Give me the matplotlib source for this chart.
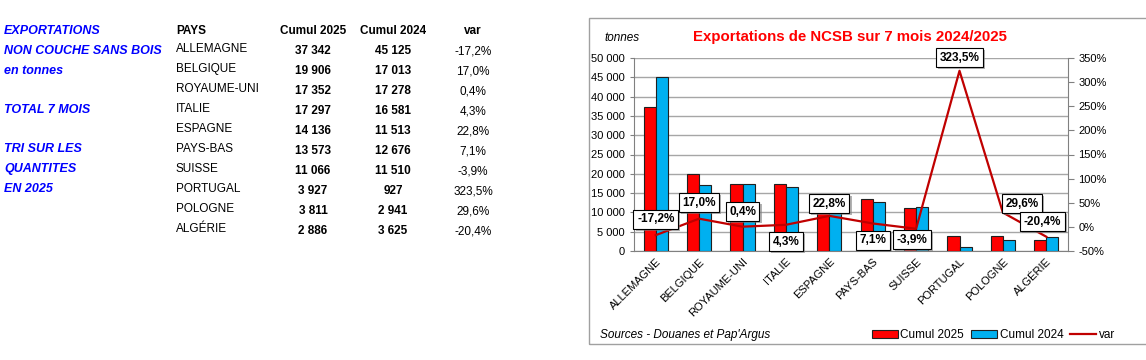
import matplotlib.pyplot as plt
from matplotlib.patches import Rectangle, Patch
from matplotlib.lines import Line2D
from matplotlib.ticker import FuncFormatter, MultipleLocator
import matplotlib.patheffects as pe
import numpy as np

plt.rcParams['font.family'] = ['Liberation Sans', 'DejaVu Sans']

W, H = 1146, 360

pays = ['ALLEMAGNE', 'BELGIQUE', 'ROYAUME-UNI', 'ITALIE', 'ESPAGNE',
        'PAYS-BAS', 'SUISSE', 'PORTUGAL', 'POLOGNE', 'ALGÉRIE']
cumul_2025 = [37342, 19906, 17352, 17297, 14136, 13573, 11066, 3927, 3811, 2886]
cumul_2024 = [45125, 17013, 17278, 16581, 11513, 12676, 11510, 927, 2941, 3625]
var = [-17.2, 17.0, 0.4, 4.3, 22.8, 7.1, -3.9, 323.5, 29.6, -20.4]

left_text = ['EXPORTATIONS', 'NON COUCHE SANS BOIS', 'en tonnes', '',
             'TOTAL 7 MOIS', '', 'TRI SUR LES', 'QUANTITES', 'EN 2025']

# label offsets (pixels) for the var boxes
label_off = [(0, 16), (0, 16), (0, 15), (0, -17), (0, 12),
             (0, -17), (-4, -11), (0, 13), (19, 9), (-4, 15)]

RED = '#FF0000'
BLUE = '#00B0F0'
LINE = '#C00000'
GRID = '#A6A6A6'


def fx(px):
    return px / W


def fy(py):
    return 1 - py / H


def fmt_int(v):
    return f"{v:,}".replace(',', ' ')


def fmt_pct(v):
    return f"{v:.1f}%".replace('.', ',')


fig = plt.figure(figsize=(W / 100, H / 100), dpi=100)

# ---- left text block
blue_lines_y = [31, 51, 71, 91, 110, 130, 149, 169, 189]
for txt, y in zip(left_text, blue_lines_y):
    if txt:
        fig.text(fx(4), fy(y), txt, color='#0000FF', fontsize=9,
                 fontweight='bold', fontstyle='italic', va='center', ha='left')

# ---- table
fig.text(fx(176), fy(31), 'PAYS', fontsize=8.5, fontweight='bold', va='center')
fig.text(fx(313), fy(31), 'Cumul 2025', fontsize=8.5, fontweight='bold', va='center', ha='center')
fig.text(fx(393), fy(31), 'Cumul 2024', fontsize=8.5, fontweight='bold', va='center', ha='center')
fig.text(fx(473), fy(31), 'var', fontsize=8.5, fontweight='bold', va='center', ha='center')
for i, p in enumerate(pays):
    y = 49 + i * 20
    fig.text(fx(176), fy(y), p, fontsize=8.5, va='center')
    fig.text(fx(313), fy(y + 2), fmt_int(cumul_2025[i]), fontsize=8.5,
             fontweight='bold', va='center', ha='center')
    fig.text(fx(393), fy(y + 2), fmt_int(cumul_2024[i]), fontsize=8.5,
             fontweight='bold', va='center', ha='center')
    fig.text(fx(473), fy(y + 2), fmt_pct(var[i]), fontsize=8.5,
             va='center', ha='center')

# ---- chart frame
fig.patches.append(Rectangle((fx(589), fy(344)), fx(W + 10 - 589), (344 - 18) / H,
                             transform=fig.transFigure, fill=False,
                             edgecolor='#A0A0A0', linewidth=1))

ax = fig.add_axes([fx(634), fy(251), (1068 - 634) / W, (251 - 58) / H])
x = np.arange(len(pays))
bw = 0.28
ax.bar(x - bw / 2, cumul_2025, bw, color=RED, edgecolor='#202020', linewidth=0.8,
       label='Cumul 2025', zorder=3)
ax.bar(x + bw / 2, cumul_2024, bw, color=BLUE, edgecolor='#202020', linewidth=0.8,
       label='Cumul 2024', zorder=3)
ax.set_ylim(0, 50000)
ax.set_xlim(-0.5, len(pays) - 0.5)
ax.yaxis.set_major_locator(MultipleLocator(5000))
ax.yaxis.set_major_formatter(FuncFormatter(lambda v, p: fmt_int(int(v))))
ax.grid(axis='y', color=GRID, linewidth=1, zorder=0)
ax.set_xticks(x)
ax.set_xticklabels(pays, rotation=45, ha='right', rotation_mode='anchor', fontsize=8)
ax.tick_params(axis='x', length=0, pad=4)
ax.tick_params(axis='y', labelsize=8, length=3, color='#808080')
for s in ['top', 'right']:
    ax.spines[s].set_visible(False)
ax.spines['left'].set_color('#808080')
ax.spines['bottom'].set_color('#808080')

ax2 = ax.twinx()
ax2.plot(x, var, color=LINE, linewidth=1.6, zorder=4)
ax2.set_ylim(-50, 350)
ax2.yaxis.set_major_locator(MultipleLocator(50))
ax2.yaxis.set_major_formatter(FuncFormatter(lambda v, p: f"{v:.0f}%"))
ax2.tick_params(axis='y', labelsize=8, length=4, color='#808080')
for s in ['top', 'left', 'bottom']:
    ax2.spines[s].set_visible(False)
ax2.spines['right'].set_color('#808080')

for i, v in enumerate(var):
    dx, dy = label_off[i]
    ann = ax2.annotate(fmt_pct(v), (x[i], v), xytext=(dx, dy), textcoords='offset pixels',
                       ha='center', va='center', fontsize=8.5, fontweight='bold', zorder=6,
                       bbox=dict(boxstyle='square,pad=0.3', facecolor='white',
                                 edgecolor='black', linewidth=0.8))
    ann.get_bbox_patch().set_path_effects(
        [pe.SimplePatchShadow(offset=(1.5, -1.5), shadow_rgbFace='#808080', alpha=0.6),
         pe.Normal()])

fig.text(fx(850), fy(37), 'Exportations de NCSB sur 7 mois 2024/2025', color='#FF0000',
         fontsize=10.8, fontweight='bold', ha='center', va='center')
fig.text(fx(604), fy(38), 'tonnes', fontsize=8.5, fontstyle='italic', va='center')
fig.text(fx(600), fy(335), "Sources - Douanes et Pap'Argus", fontsize=8.5,
         fontstyle='italic', va='center')

handles = [Patch(facecolor=RED, edgecolor='#202020', linewidth=0.8, label='Cumul 2025'),
           Patch(facecolor=BLUE, edgecolor='#202020', linewidth=0.8, label='Cumul 2024'),
           Line2D([0], [0], color=LINE, linewidth=1.6, label='var')]
fig.legend(handles=handles, loc='center left', bbox_to_anchor=(fx(872), fy(335)),
           ncol=3, frameon=False, fontsize=8.5, handlelength=2.2, handleheight=0.6,
           handletextpad=0.2, columnspacing=0.6, borderaxespad=0, borderpad=0)

fig.savefig('out.png', dpi=100)
